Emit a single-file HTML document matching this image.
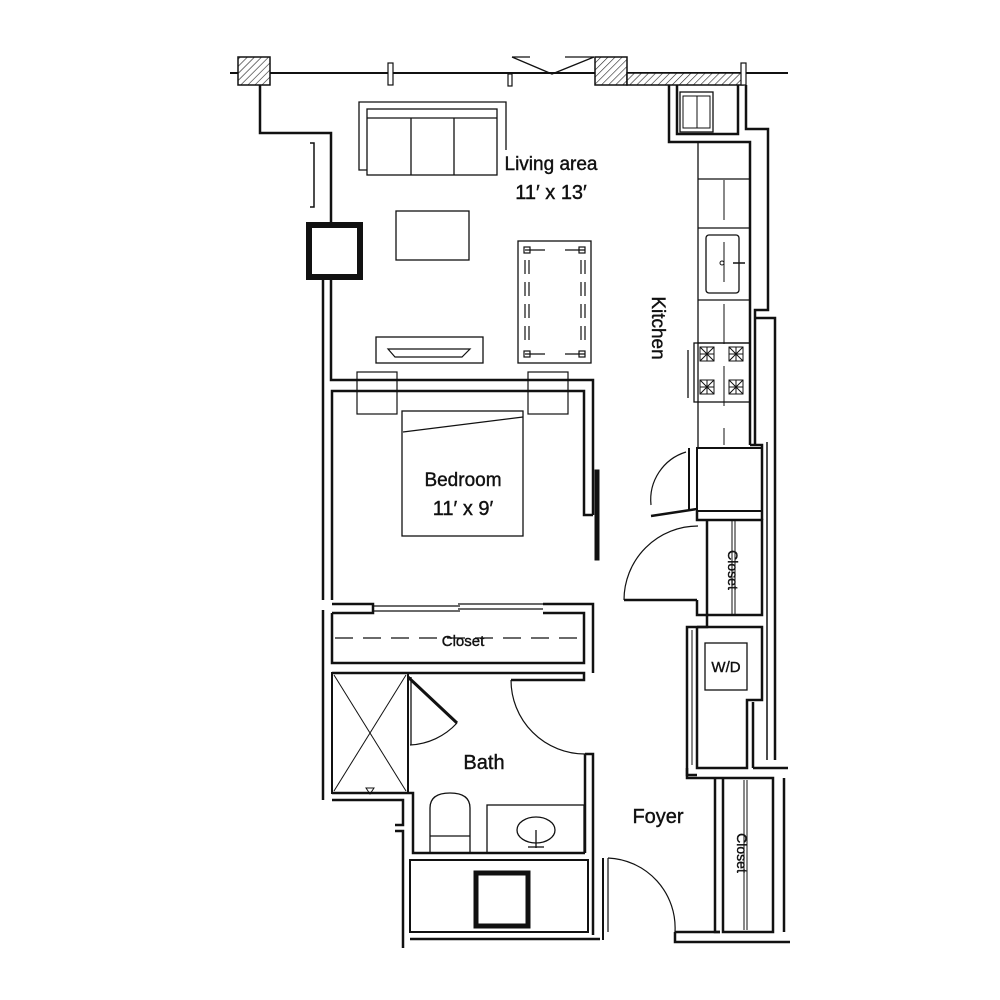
<!DOCTYPE html>
<html><head><style>
html,body{margin:0;padding:0;background:#fff;}
svg{display:block;}
text{font-family:"Liberation Sans",sans-serif;fill:#111;}
</style></head><body>
<svg width="1000" height="1000" viewBox="0 0 1000 1000" xmlns="http://www.w3.org/2000/svg">
<defs>
<pattern id="h" width="5" height="5" patternUnits="userSpaceOnUse" patternTransform="rotate(45)">
<rect width="5" height="5" fill="#fff"/><line x1="0" y1="0" x2="0" y2="5" stroke="#222" stroke-width="1.2"/>
</pattern>
</defs>
<g fill="none" stroke="#111" stroke-width="2.5">
<line x1="230" y1="73" x2="788" y2="73" stroke-width="2"/>
<rect x="238" y="57" width="32" height="28" fill="url(#h)" stroke-width="1.5"/>
<rect x="595" y="57" width="32" height="28" fill="url(#h)" stroke-width="1.5"/>
<rect x="627" y="73" width="116" height="12" fill="url(#h)" stroke-width="1.5"/>
<rect x="388" y="63" width="5" height="22" fill="#fff" stroke-width="1.2"/>
<rect x="508" y="74" width="4" height="12" fill="#fff" stroke-width="1.2"/>
<rect x="741" y="63" width="5" height="22" fill="#fff" stroke-width="1.2"/>
<polyline points="512,57 552,74 594,57" stroke-width="1.3"/>
<line x1="512" y1="57" x2="530" y2="57" stroke-width="1.3"/><line x1="565" y1="57" x2="594" y2="57" stroke-width="1.3"/>
<polyline points="260,85 260,133 331,133 331,224"/>
<polyline points="331,278 331,380 593,380 593,515"/>
<line x1="323" y1="278" x2="323" y2="600"/>
<polyline points="310,143 314,143 314,207 310,207" stroke-width="1.5"/>
<rect x="309" y="225" width="51" height="52" stroke-width="6"/>
<polyline points="506,150 506,102 359,102 359,170 367,170" stroke-width="1.3"/>
<rect x="367" y="109" width="130" height="66" stroke-width="1.3"/>
<line x1="367" y1="118" x2="497" y2="118" stroke-width="1.3"/>
<line x1="411" y1="118" x2="411" y2="175" stroke-width="1.3"/><line x1="454" y1="118" x2="454" y2="175" stroke-width="1.3"/>
<rect x="396" y="211" width="73" height="49" stroke-width="1.3"/>
<rect x="518" y="241" width="73" height="122" stroke-width="1.3"/>
<g stroke-width="1.2">
<line x1="525" y1="250" x2="545" y2="250"/><line x1="565" y1="250" x2="585" y2="250"/>
<line x1="525" y1="354" x2="545" y2="354"/><line x1="565" y1="354" x2="585" y2="354"/>
<line x1="525" y1="260" x2="525" y2="345" stroke-dasharray="14,8"/><line x1="529" y1="260" x2="529" y2="345" stroke-dasharray="14,8"/>
<line x1="581" y1="260" x2="581" y2="345" stroke-dasharray="14,8"/><line x1="585" y1="260" x2="585" y2="345" stroke-dasharray="14,8"/>
<rect x="524" y="247" width="6" height="6"/><rect x="579" y="247" width="6" height="6"/>
<rect x="524" y="351" width="6" height="6"/><rect x="579" y="351" width="6" height="6"/>
</g>
<rect x="376" y="337" width="107" height="26" stroke-width="1.3"/>
<path d="M388,349 L470,349 L462,357 L395,357 Z" stroke-width="1.2"/>
<polyline points="332,600 332,391 584,391 584,515 593,515"/>
<rect x="357" y="372" width="40" height="42" stroke-width="1.2"/>
<rect x="528" y="372" width="40" height="42" stroke-width="1.2"/>
<rect x="402" y="411" width="121" height="125" stroke-width="1.3"/>
<line x1="403" y1="432" x2="523" y2="417" stroke-width="1.3"/>
<rect x="595" y="470" width="4" height="90" fill="#111" stroke-width="1"/>
<polyline points="332,604 373,604 373,613 332,613"/>
<polyline points="543,604 593,604 593,663"/>
<polyline points="543,613 584,613 584,663 332,663 332,613"/>
<line x1="373" y1="606" x2="460" y2="606" stroke-width="1.2"/><line x1="373" y1="611" x2="460" y2="611" stroke-width="1.2"/>
<line x1="458" y1="604" x2="543" y2="604" stroke-width="1.2"/><line x1="458" y1="609" x2="543" y2="609" stroke-width="1.2"/>
<line x1="335" y1="638" x2="580" y2="638" stroke-width="1.2" stroke-dasharray="18,10"/>
<line x1="323" y1="610" x2="323" y2="800"/>
<polyline points="332,673 584,673 584,680 511,680"/>
<line x1="593" y1="663" x2="593" y2="673"/>
<rect x="332" y="673" width="76" height="120" stroke-width="2"/>
<line x1="334" y1="675" x2="406" y2="791" stroke-width="1"/><line x1="406" y1="675" x2="334" y2="791" stroke-width="1"/>
<path d="M366,788 L374,788 L370,794 Z" stroke-width="1"/>
<line x1="411" y1="677" x2="411" y2="745" stroke-width="1.3"/>
<line x1="408" y1="677" x2="457" y2="723" stroke-width="3"/>
<path d="M457,723 A68,68 0 0 1 410,745" stroke-width="1.2"/>
<path d="M511,680 A74,74 0 0 0 585,754" stroke-width="1.2"/>
<polyline points="585,754 593,754 593,935"/>
<line x1="585" y1="754" x2="585" y2="853"/>
<polyline points="332,793 413,793 413,853 585,853"/>
<polyline points="332,800 403,800 403,825 395,825"/>
<polyline points="395,831 403,831 403,948"/>
<path d="M430,853 L430,808 Q430,793 450,793 Q470,793 470,808 L470,853" stroke-width="1.3"/>
<line x1="430" y1="836" x2="470" y2="836" stroke-width="1.2"/>
<rect x="487" y="805" width="97" height="48" stroke-width="1.3"/>
<ellipse cx="536" cy="830" rx="19" ry="13" stroke-width="1.3"/>
<line x1="536" y1="830" x2="536" y2="848" stroke-width="1.3"/><line x1="528" y1="847" x2="544" y2="847" stroke-width="1.3"/>
<rect x="410" y="860" width="178" height="72" stroke-width="2"/>
<rect x="476" y="873" width="52" height="53" stroke-width="5"/>
<line x1="410" y1="939" x2="600" y2="939"/>
<line x1="603" y1="858" x2="603" y2="940" stroke-width="2"/><line x1="608" y1="858" x2="608" y2="932" stroke-width="1.2"/>
<path d="M608,858 A70,70 0 0 1 675,932" stroke-width="1.2"/>
<polyline points="675,932 675,942 790,942"/>
<line x1="675" y1="932" x2="720" y2="932"/>
<polyline points="746,85 746,129 768,129 768,310 755,310 755,318"/>
<polyline points="669,85 669,142 750,142 750,445"/>
<polyline points="677,85 677,134 738,134 738,85"/>
<rect x="680" y="92" width="33" height="40" stroke-width="1.3"/>
<rect x="683" y="96" width="27" height="32" stroke-width="1"/><line x1="697" y1="96" x2="697" y2="128" stroke-width="1"/>
<line x1="698" y1="142" x2="698" y2="448" stroke-width="1.3"/>
<line x1="698" y1="179" x2="750" y2="179" stroke-width="1.3"/>
<line x1="698" y1="228" x2="750" y2="228" stroke-width="1.3"/>
<line x1="698" y1="300" x2="750" y2="300" stroke-width="1.3"/>
<line x1="698" y1="343" x2="750" y2="343" stroke-width="1.3"/>
<line x1="724" y1="180" x2="724" y2="445" stroke-width="1" stroke-dasharray="40,22"/>
<rect x="706" y="235" width="33" height="58" rx="3" stroke-width="1.3"/>
<circle cx="722" cy="263" r="2" stroke-width="1"/><line x1="733" y1="263" x2="745" y2="263" stroke-width="1.5"/>
<rect x="694" y="343" width="56" height="59" stroke-width="1.3"/>
<g stroke-width="1"><rect x="700" y="347" width="14" height="14"/><rect x="729" y="347" width="14" height="14"/><rect x="700" y="380" width="14" height="14"/><rect x="729" y="380" width="14" height="14"/>
<path d="M700,347 L714,361 M714,347 L700,361 M707,347 L707,361 M700,354 L714,354 M729,347 L743,361 M743,347 L729,361 M736,347 L736,361 M729,354 L743,354 M700,380 L714,394 M714,380 L700,394 M707,380 L707,394 M700,387 L714,387 M729,380 L743,394 M743,380 L729,394 M736,380 L736,394 M729,387 L743,387"/></g>
<line x1="688" y1="350" x2="688" y2="398" stroke-width="1.3"/>
<polyline points="755,318 775,318 775,760"/>
<line x1="755" y1="318" x2="755" y2="445"/>
<polyline points="750,445 762,445 762,520"/>
<line x1="767" y1="442" x2="767" y2="760" stroke-width="1.5"/>
<rect x="697" y="448" width="65" height="63" stroke-width="2"/>
<line x1="689" y1="448" x2="689" y2="511" stroke-width="2"/>
<line x1="651" y1="516" x2="697" y2="509" stroke-width="2.5"/>
<path d="M651,505 A50,50 0 0 1 686,452" stroke-width="1.2"/>
<polyline points="697,511 697,520 707,520 707,615 762,615 762,520 707,520"/>
<line x1="732" y1="521" x2="732" y2="614" stroke-width="1"/><line x1="735" y1="521" x2="735" y2="614" stroke-width="1"/>
<line x1="624" y1="600" x2="697" y2="600"/>
<path d="M624,600 A74,74 0 0 1 698,526" stroke-width="1.2"/>
<polyline points="697,600 697,615 707,615 707,627 687,627 687,775 697,775"/>
<polyline points="697,627 762,627 762,700 747,700 747,768 697,768 697,627"/>
<rect x="705" y="643" width="42" height="47" stroke-width="1.3"/>
<line x1="692" y1="630" x2="692" y2="765" stroke-width="1"/>
<line x1="753" y1="702" x2="753" y2="768"/>
<line x1="753" y1="768" x2="788" y2="768"/>
<polyline points="687,768 687,778 773,778 773,932 723,932 723,778"/>
<polyline points="715,778 715,932 720,932"/>
<line x1="744" y1="780" x2="744" y2="930" stroke-width="1"/><line x1="747" y1="780" x2="747" y2="930" stroke-width="1"/>
<line x1="784" y1="778" x2="784" y2="932"/>
</g>
<g stroke="#111" stroke-width="0.4">
<text x="551" y="170" font-size="19" text-anchor="middle">Living area</text>
<text x="551" y="199" font-size="20" text-anchor="middle">11′ x 13′</text>
<text x="0" y="0" font-size="19" text-anchor="middle" transform="translate(652,328) rotate(90)">Kitchen</text>
<text x="463" y="486" font-size="19" text-anchor="middle">Bedroom</text>
<text x="463" y="515" font-size="20" text-anchor="middle">11′ x 9′</text>
<text x="463" y="646" font-size="15" text-anchor="middle">Closet</text>
<text x="484" y="769" font-size="20" text-anchor="middle">Bath</text>
<text x="658" y="823" font-size="20" text-anchor="middle">Foyer</text>
<text x="726" y="672" font-size="15" text-anchor="middle">W/D</text>
<text x="0" y="0" font-size="14" text-anchor="middle" transform="translate(728,570) rotate(90)">Closet</text>
<text x="0" y="0" font-size="14" text-anchor="middle" transform="translate(737,853) rotate(90)">Closet</text>
</g>
</svg>
</body></html>
